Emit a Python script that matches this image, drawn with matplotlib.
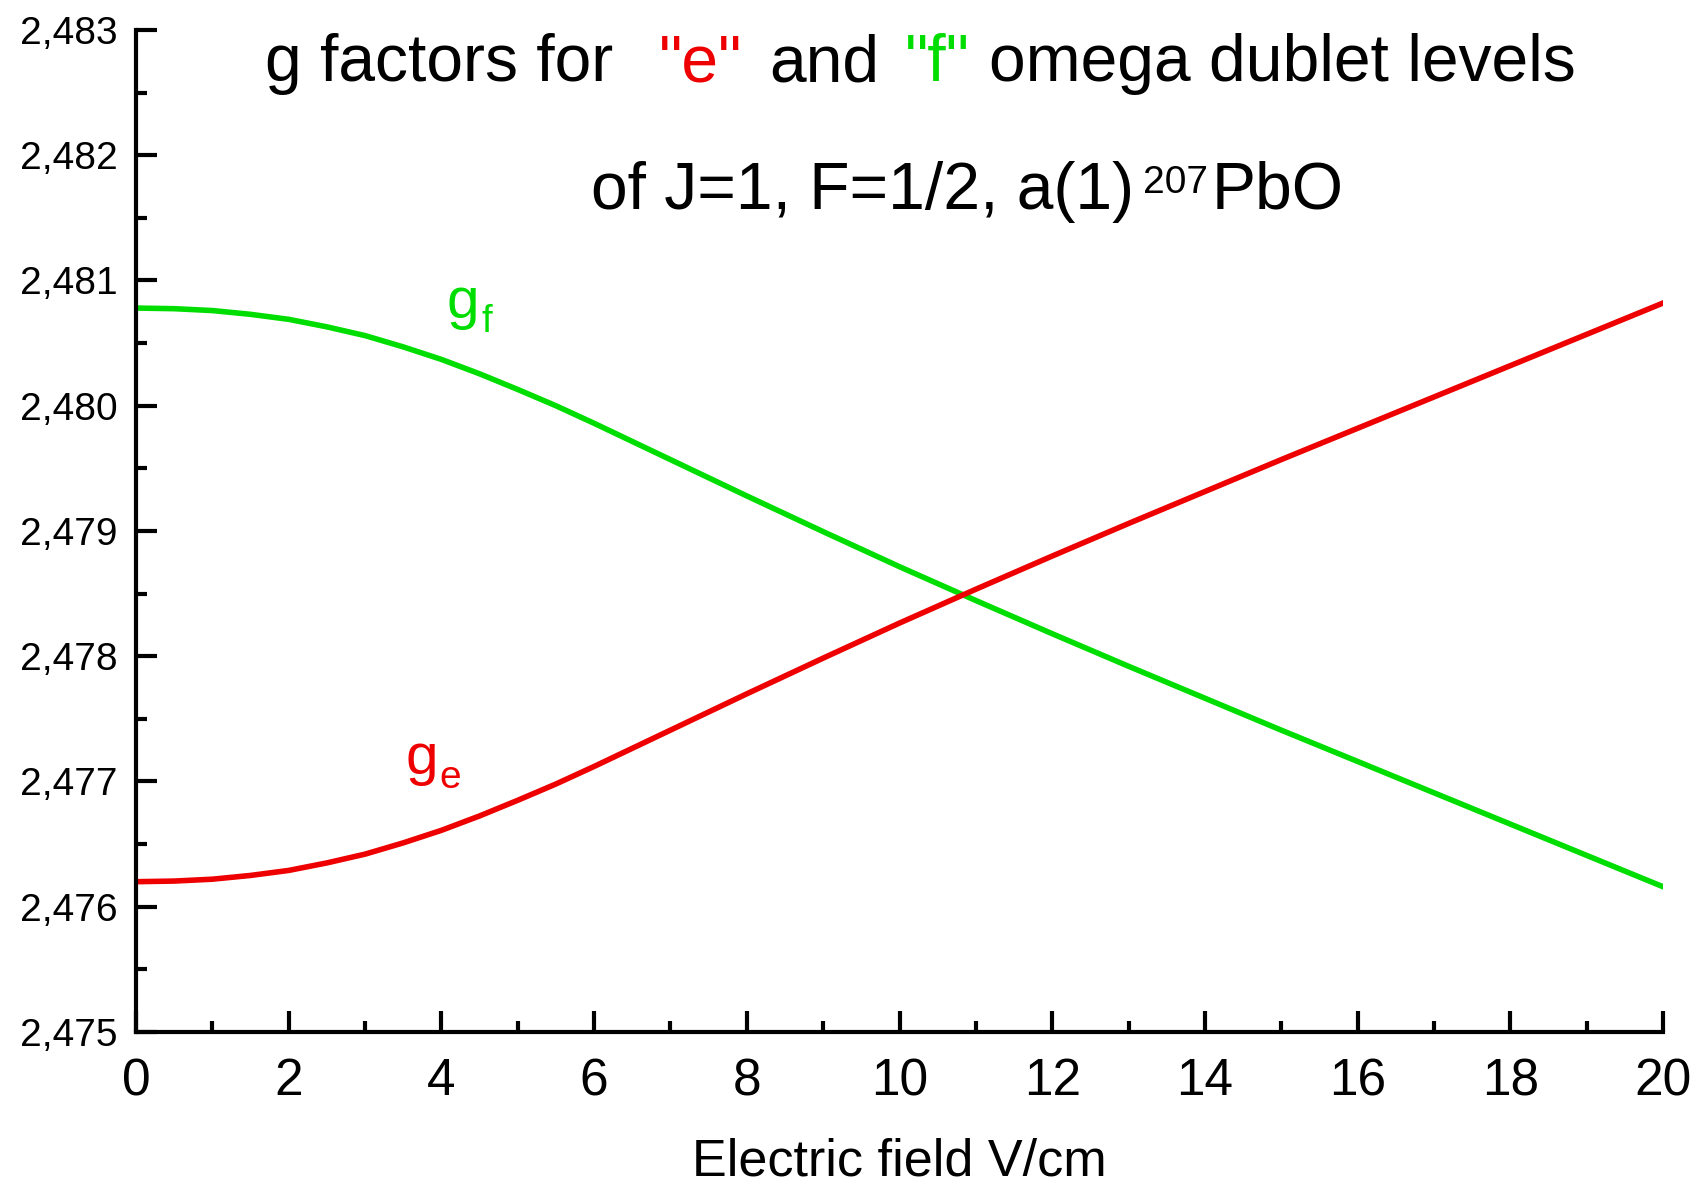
import matplotlib
matplotlib.use('Agg')
import matplotlib.pyplot as plt
from matplotlib.ticker import FuncFormatter, MultipleLocator

plt.rcParams['font.family'] = ['Liberation Sans', 'DejaVu Sans']

# Electric field (V/cm)
field = [0, 0.5, 1, 1.5, 2, 2.5, 3, 3.5, 4, 4.5, 5, 5.5, 6, 6.5, 7, 7.5, 8,
         9, 10, 11, 12, 13, 14, 15, 16, 17, 18, 19, 20]

# g factor of the "f" level (green)
g_f = [2.48078, 2.480775, 2.48076, 2.48073, 2.48069, 2.48063, 2.48056, 2.48047,
       2.48037, 2.480255, 2.48013, 2.48000, 2.47986, 2.479715, 2.47957, 2.479425,
       2.47928, 2.478995, 2.478715, 2.478445, 2.47818, 2.47792, 2.477665,
       2.47741, 2.47716, 2.47691, 2.47666, 2.47641, 2.47616]

# g factor of the "e" level (red)
g_e = [2.47620, 2.476205, 2.47622, 2.47625, 2.47629, 2.47635, 2.47642, 2.47651,
       2.47661, 2.476725, 2.47685, 2.47698, 2.47712, 2.477265, 2.47741, 2.477555,
       2.47770, 2.477985, 2.478265, 2.478535, 2.47880, 2.47906, 2.479315,
       2.47957, 2.47982, 2.48007, 2.48032, 2.48057, 2.48082]

RED = '#ee0000'
GREEN = '#00dd00'

W, H = 1694, 1187
fig = plt.figure(figsize=(W / 100, H / 100), dpi=100)
ax = fig.add_axes([136 / W, 1 - 1032 / H, (1663 - 136) / W, (1032 - 30) / H])

ax.plot(field, g_f, color=GREEN, linewidth=4, solid_joinstyle='round')
ax.plot(field, g_e, color=RED, linewidth=4, solid_joinstyle='round')

ax.set_xlim(0, 20)
ax.set_ylim(2.475, 2.483)

# Axis styling (Origin-like: only left/bottom, ticks pointing inwards)
for side in ['top', 'right']:
    ax.spines[side].set_visible(False)
for side in ['left', 'bottom']:
    ax.spines[side].set_linewidth(3)

ax.xaxis.set_major_locator(MultipleLocator(2))
ax.xaxis.set_minor_locator(MultipleLocator(1))
ax.yaxis.set_major_locator(MultipleLocator(0.001))
ax.yaxis.set_minor_locator(MultipleLocator(0.0005))
ax.yaxis.set_major_formatter(FuncFormatter(lambda v, pos: ('%.3f' % v).replace('.', ',')))

ax.tick_params(axis='both', which='major', direction='in', length=15, width=3)
ax.tick_params(axis='both', which='minor', direction='in', length=8, width=3)
ax.tick_params(axis='y', which='major', labelsize=28, pad=13)
ax.tick_params(axis='x', which='major', labelsize=37, pad=18)

ax.set_xlabel('Electric field V/cm', fontsize=37.5, va='baseline')
ax.xaxis.set_label_coords(0.5, (1032 - 1176) / (1032 - 30))

# Title pieces (pixel positions from top-left)
def put(x, y, s, color='black', size=47.5):
    fig.text(x / W, 1 - y / H, s, color=color, fontsize=size,
             ha='left', va='baseline')

put(265, 81, 'g factors for')
put(659, 81, '"e"', RED)
put(769, 81, 'and')
put(905, 81, '"f"', GREEN)
put(989, 81, 'omega dublet levels')

put(591, 209, 'of J=1, F=1/2, a(1)')
put(1143, 193, '207', size=28)
put(1212, 209, 'PbO')

# Curve labels
put(446, 318, 'g', GREEN, 42)
put(481, 332, 'f', GREEN, 28)
put(405, 774, 'g', RED, 42)
put(439, 788, 'e', RED, 28)

plt.savefig('out.png', dpi=100)
